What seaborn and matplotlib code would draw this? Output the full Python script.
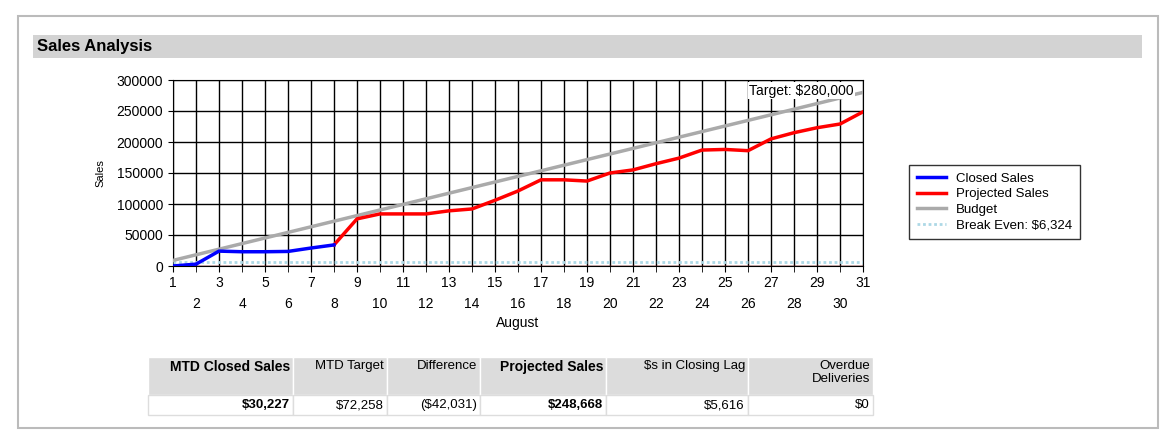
import matplotlib
matplotlib.use("Agg")
import matplotlib.pyplot as plt
from matplotlib.patches import Rectangle
from matplotlib.lines import Line2D
import seaborn as sns
import pandas as pd

days = list(range(1, 32))
closed_days = [1, 2, 3, 4, 5, 6, 7, 8]
closed_vals = [0, 3000, 24000, 23000, 23000, 23500, 29000, 34000]
proj_days = list(range(8, 32))
proj_vals = [34000, 76000, 84000, 84000, 84000, 89000, 92000, 106000, 121000, 139000,
             139000, 137000, 150000, 155000, 165000, 174000, 187000, 188000, 186000,
             205000, 215000, 223000, 229000, 248668]
target = 280000
budget_vals = [target * d / 31 for d in days]
break_even = 6324
yticks = [0, 50000, 100000, 150000, 200000, 250000, 300000]

tbl_headers = ["MTD Closed Sales", "MTD Target", "Difference", "Projected Sales", "$s in Closing Lag", "Overdue\nDeliveries"]
tbl_values = ["$30,227", "$72,258", "($42,031)", "$248,668", "$5,616", "$0"]
tbl_bold = [True, False, False, True, False, False]

W, H = 1175, 438
plt.rcParams["font.family"] = "Liberation Sans"
fig = plt.figure(figsize=(W / 100, H / 100), dpi=100)

def fx(x): return x / W
def fy(y): return 1 - y / H

fig.patches.append(Rectangle((fx(18), fy(428)), fx(1140), 412 / H, transform=fig.transFigure,
                             facecolor="white", edgecolor="#bbbbbb", lw=1.5, zorder=-10))
fig.patches.append(Rectangle((fx(33), fy(58)), fx(1109), 23 / H, transform=fig.transFigure,
                             facecolor="#d3d3d3", edgecolor="none", zorder=-9))
fig.text(fx(37), fy(46), "Sales Analysis", fontsize=12, fontweight="bold", va="center")

ax = fig.add_axes([fx(173), fy(266), fx(863 - 173), (266 - 80) / H])
df_b = pd.DataFrame({"d": days, "v": budget_vals})
df_c = pd.DataFrame({"d": closed_days, "v": closed_vals})
df_p = pd.DataFrame({"d": proj_days, "v": proj_vals})
ax.axhline(0, color="#b22222", lw=1, zorder=3)
ax.axhline(break_even, color="#add8e6", lw=2, ls=(0, (1, 1)), zorder=3)
sns.lineplot(data=df_b, x="d", y="v", ax=ax, color="#aaaaaa", lw=2.5, zorder=4)
sns.lineplot(data=df_p, x="d", y="v", ax=ax, color="#ff0000", lw=2.5, zorder=5)
sns.lineplot(data=df_c, x="d", y="v", ax=ax, color="#0000ff", lw=2.5, zorder=6)
ax.set_xlim(1, 31)
ax.set_ylim(0, 300000)
ax.set_yticks(yticks)
ax.set_yticklabels([str(v) for v in yticks], fontsize=10)
ax.set_xticks([d for d in days if d % 2 == 1])
ax.set_xticklabels([str(d) for d in days if d % 2 == 1], fontsize=10)
ax.set_xticks([d for d in days if d % 2 == 0], minor=True)
ax.set_xticklabels([str(d) for d in days if d % 2 == 0], minor=True, fontsize=10)
ax.tick_params(axis="x", which="minor", pad=18, length=4)
ax.tick_params(axis="x", which="major", pad=3, length=4)
ax.grid(True, which="both", axis="x", color="black", lw=1)
ax.grid(True, which="major", axis="y", color="black", lw=1)
ax.set_axisbelow(True)
for s in ax.spines.values():
    s.set_color("black")
ax.set_xlabel("August", fontsize=10, labelpad=4)
ax.set_ylabel("Sales", fontsize=8, labelpad=8)
ax.text(30.6, 283000, "Target: $280,000", ha="right", va="center", fontsize=10, zorder=7,
        bbox=dict(facecolor="white", edgecolor="none", pad=1))

handles = [Line2D([], [], color="#0000ff", lw=2.5), Line2D([], [], color="#ff0000", lw=2.5),
           Line2D([], [], color="#aaaaaa", lw=2.5), Line2D([], [], color="#add8e6", lw=2, ls=(0, (1, 1)))]
labels = ["Closed Sales", "Projected Sales", "Budget", f"Break Even: ${break_even:,}"]
fig.legend(handles, labels, loc="center left", bbox_to_anchor=(fx(902), fy(202)),
           fontsize=9.5, frameon=True, fancybox=False, edgecolor="black",
           handlelength=2.2, labelspacing=0.25, borderpad=0.6)

cols = [148, 293, 387, 480, 606, 748, 873]
for i in range(6):
    x0, x1 = cols[i], cols[i + 1]
    fig.patches.append(Rectangle((fx(x0), fy(395)), fx(x1 - x0), 38 / H, transform=fig.transFigure,
                                 facecolor="#dcdcdc", edgecolor="white", lw=1))
    fig.patches.append(Rectangle((fx(x0), fy(415)), fx(x1 - x0), 20 / H, transform=fig.transFigure,
                                 facecolor="white", edgecolor="#dddddd", lw=1))
    fw = "bold" if tbl_bold[i] else "normal"
    fig.text(fx(x1 - 3), fy(360), tbl_headers[i], ha="right", va="top", fontsize=10 if tbl_bold[i] else 9.5,
             fontweight=fw, linespacing=1.1)
    fig.text(fx(x1 - 3), fy(405), tbl_values[i], ha="right", va="center", fontsize=9.5, fontweight=fw)

fig.savefig("out.png", dpi=100)
